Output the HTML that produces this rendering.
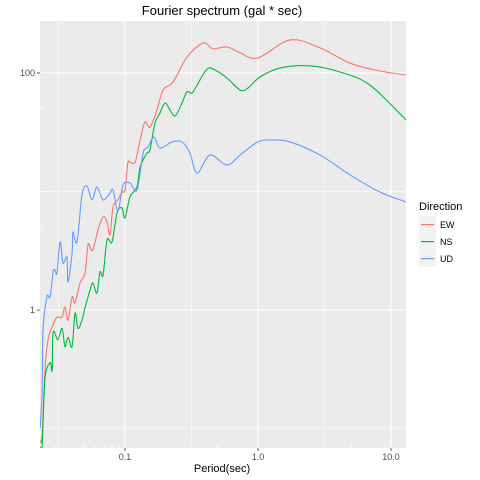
<!DOCTYPE html>
<html><head><meta charset="utf-8"><style>
body{margin:0;background:#fff;}
svg{display:block;font-family:"Liberation Sans",sans-serif;}
</style></head><body>
<svg id="chart" width="480" height="480" viewBox="0 0 480 480">
<text x="222" y="15" font-size="13" text-anchor="middle" fill="#000">Fourier spectrum (gal * sec)</text>
<rect x="40" y="21" width="366" height="427" fill="#ebebeb"/>
<defs><clipPath id="clip"><rect x="40" y="21" width="366" height="427"/></clipPath></defs>
<g id="grid"></g>
<g id="logticks"></g>
<g id="series" clip-path="url(#clip)"></g>
<g id="axes"></g>
<text x="222" y="472" font-size="11" text-anchor="middle" fill="#000">Period(sec)</text>
<g>
<text x="419" y="210" font-size="11" fill="#000">Direction</text>
<g><rect x="419" y="216" width="17" height="17" fill="#f2f2f2"/><rect x="421" y="224" width="13" height="1.2" fill="#F8766D"/><text x="440" y="228" font-size="9" fill="#000">EW</text></g>
<g><rect x="419" y="233" width="17" height="17" fill="#f2f2f2"/><rect x="421" y="241" width="13" height="1.2" fill="#00BA38"/><text x="440" y="245" font-size="9" fill="#000">NS</text></g>
<g><rect x="419" y="250" width="17" height="17" fill="#f2f2f2"/><rect x="421" y="258" width="13" height="1.2" fill="#619CFF"/><text x="440" y="262" font-size="9" fill="#000">UD</text></g>
</g>
</svg>
<script>
const ewPeriod=[0.0230,0.0238,0.0250,0.0264,0.0283,0.0308,0.0336,0.0354,0.0373,0.0400,0.0421,0.0459,0.0500,0.0527,0.0546,0.0574,0.0627,0.0684,0.0733,0.0771,0.0813,0.0885,0.0948,0.100,0.105,0.109,0.119,0.130,0.141,0.154,0.174,0.193,0.230,0.292,0.386,0.459,0.585,0.733,1.0,1.74,2.93,4.92,8.26,13.0];
const ewAmp=[0.080,0.085,0.31,0.56,0.72,0.87,0.87,1.06,0.82,1.29,1.15,1.69,2.05,3.54,3.4,3.21,4.73,6.1,5.53,4.3,7.4,8.5,9.9,10.3,17.4,17.7,17.7,27.2,38.6,35.0,48.7,71.9,84,136,179,160,166,148,134,190,163,121,104,96];
const nsPeriod=[0.0230,0.0238,0.0250,0.0273,0.0283,0.0288,0.0313,0.0336,0.0354,0.0373,0.0400,0.0421,0.0443,0.0475,0.0500,0.0546,0.0574,0.0615,0.0649,0.0684,0.0733,0.0798,0.0871,0.0948,0.100,0.109,0.123,0.130,0.146,0.154,0.168,0.183,0.200,0.218,0.238,0.268,0.292,0.319,0.348,0.414,0.475,0.585,0.733,0.841,1.035,1.46,2.46,4.14,6.95,13.0];
const nsAmp=[0.070,0.070,0.26,0.36,0.31,0.65,0.56,0.70,0.49,0.59,0.49,0.94,0.70,0.82,1.04,1.47,1.69,1.39,2.09,1.97,3.9,3.75,6.59,7.26,5.97,9.0,10.9,16.1,21.1,22.4,37.8,45.9,55.8,48.7,43.4,55.8,69.2,67.8,79,108,106,90.7,71.9,74.7,92.5,110,115,102,79,40.1];
const udPeriod=[0.0230,0.0238,0.0242,0.0259,0.0273,0.0288,0.0298,0.0308,0.0325,0.0342,0.0366,0.0373,0.0400,0.0406,0.0436,0.0475,0.0518,0.0565,0.0615,0.0684,0.0771,0.0813,0.0885,0.0966,0.109,0.123,0.137,0.149,0.165,0.183,0.226,0.268,0.308,0.348,0.436,0.585,0.733,1.0,1.27,1.74,2.93,4.92,8.26,13.0];
const udAmp=[0.10,0.20,0.68,1.29,1.29,2.09,2.18,2.05,3.75,2.49,2.8,1.72,3.03,4.55,3.75,9.4,11.1,8.5,10.9,8.5,9.7,10.3,6.85,11.3,11.8,10.3,21.1,23.8,28.8,23.3,26.2,26.2,21.1,14.3,20.3,16.7,20.3,26.2,27.2,26.2,20.3,13.8,9.9,8.15];
const xTickValues=[0.1,1,10];
const xTickLabels=["0.1","1.0","10.0"];
const yTickValues=[1,100];
const yTickLabels=["1","100"];
const xMinorValues=[0.0316,0.316,3.16];
const yMinorValues=[0.1,10];

const NS='http://www.w3.org/2000/svg';
function xs(v){return 258+133*Math.log10(v);}
function ys(v){return 310-118.5*Math.log10(v);}
function mk(tag,attrs,parent){const e=document.createElementNS(NS,tag);for(const k in attrs)e.setAttribute(k,attrs[k]);parent.appendChild(e);return e;}
const grid=document.getElementById('grid');
xMinorValues.forEach(v=>{const l=mk('line',{x1:xs(v),x2:xs(v),y1:21,y2:448,stroke:'#fff','stroke-width':0.5},grid);

});
yMinorValues.forEach(v=>{const l=mk('line',{x1:40,x2:406,y1:ys(v),y2:ys(v),stroke:'#fff','stroke-width':0.5},grid);

});
xTickValues.forEach(v=>{const l=mk('line',{x1:xs(v),x2:xs(v),y1:21,y2:448,stroke:'#fff','stroke-width':1.1},grid);

});
yTickValues.forEach(v=>{const l=mk('line',{x1:40,x2:406,y1:ys(v),y2:ys(v),stroke:'#fff','stroke-width':1.1},grid);

});
const lt=document.getElementById('logticks');
for(let d=-2;d<=1;d++){for(let m=1;m<=9;m++){const v=m*Math.pow(10,d);const len=m===1?5:(m===5?3.5:2);
 const x=xs(v);if(x>=40&&x<=406){const l=mk('line',{x1:x,x2:x,y1:448,y2:448-len,stroke:'#fff','stroke-width':0.8},lt);
 
 }}}
for(let d=-2;d<=2;d++){for(let m=1;m<=9;m++){const v=m*Math.pow(10,d);const len=m===1?5:(m===5?3.5:2);
 const y=ys(v);if(y>=21&&y<=448){const l=mk('line',{x1:40,x2:40+len,y1:y,y2:y,stroke:'#fff','stroke-width':0.8},lt);
 
 }}}
const ax=document.getElementById('axes');
xTickValues.forEach((v,i)=>{const t=mk('line',{x1:xs(v),x2:xs(v),y1:448,y2:451,stroke:'#333','stroke-width':0.8},ax);


const tx=mk('text',{x:xs(v),y:460,'font-size':9,'text-anchor':'middle',fill:'#4d4d4d'},ax);tx.textContent=xTickLabels[i];

});
yTickValues.forEach((v,i)=>{const t=mk('line',{x1:37,x2:40,y1:ys(v),y2:ys(v),stroke:'#333','stroke-width':0.8},ax);


const tx=mk('text',{x:35,y:ys(v)+3,'font-size':9,'text-anchor':'end',fill:'#4d4d4d'},ax);tx.textContent=yTickLabels[i];

});
function pathFor(px,py){const p=px.map((v,i)=>[xs(v),ys(py[i])]);let d='M'+p[0][0].toFixed(2)+','+p[0][1].toFixed(2);
 for(let i=0;i<p.length-1;i++){const p0=p[Math.max(0,i-1)],p1=p[i],p2=p[i+1],p3=p[Math.min(p.length-1,i+2)];
 const c1=[p1[0]+(p2[0]-p0[0])/6,p1[1]+(p2[1]-p0[1])/6],c2=[p2[0]-(p3[0]-p1[0])/6,p2[1]-(p3[1]-p1[1])/6];
 d+='C'+c1[0].toFixed(2)+','+c1[1].toFixed(2)+' '+c2[0].toFixed(2)+','+c2[1].toFixed(2)+' '+p2[0].toFixed(2)+','+p2[1].toFixed(2);}
 return d;}
const sg=document.getElementById('series');
const e1=mk('path',{d:pathFor(ewPeriod,ewAmp),fill:'none',stroke:'#F8766D','stroke-width':1.1},sg);


const e2=mk('path',{d:pathFor(nsPeriod,nsAmp),fill:'none',stroke:'#00BA38','stroke-width':1.1},sg);


const e3=mk('path',{d:pathFor(udPeriod,udAmp),fill:'none',stroke:'#619CFF','stroke-width':1.1},sg);


</script>
</body></html>
